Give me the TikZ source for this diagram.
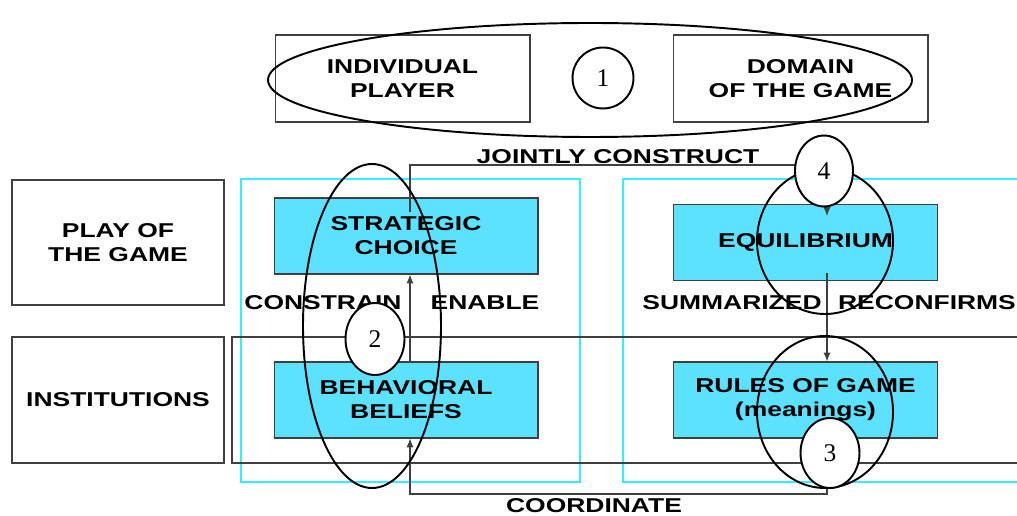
\documentclass[tikz,border=0pt]{standalone}
\usepackage{fontspec}
\newfontfamily\diafont{Liberation Sans}[FakeStretch=1.32]
\newfontfamily\numfont{Liberation Serif}
\usetikzlibrary{shapes.geometric,arrows.meta}
\definecolor{boxblue}{HTML}{5CE1FF}
\definecolor{edgegray}{HTML}{404040}
\definecolor{framecyan}{HTML}{33F0FF}
\tikzset{
	lbl/.style={font=\diafont\bfseries\fontsize{11.4}{13.7}\selectfont, align=center},
	plainbox/.style={draw=edgegray, line width=0.6pt, lbl, inner sep=0pt},
	bluebox/.style={draw=edgegray, line width=0.6pt, fill=boxblue, lbl, minimum width=5.28cm, minimum height=1.52cm, inner sep=0pt},
	numcirc/.style={ellipse, draw, line width=1.1pt, fill=white, inner sep=0pt, font=\numfont\fontsize{14.5}{16}\selectfont},
	link/.style={draw=edgegray, line width=0.6pt},
	tip/.style={link, -{Latex[length=5pt,width=4pt]}},
	ring/.style={line width=1.1pt},
}
\begin{document}
\begin{tikzpicture}[x=0.02cm, y=-0.02cm]
		\useasboundingbox (0,0) rectangle (1017,516);
		% frames
		\draw[framecyan, line width=0.6pt] (241,179) rectangle (580,482);
		\draw[framecyan, line width=0.6pt] (1017,179) -| (623,482) -- (1017,482);
		\draw[edgegray, line width=0.6pt] (1017,337) -| (232,463) -- (1017,463);
		
		\node[plainbox, minimum width=5.1cm, minimum height=1.74cm] (player) at (402.5,78.5) {INDIVIDUAL\\PLAYER};
		\node[plainbox, minimum width=5.1cm, minimum height=1.74cm] (domain) at (800.5,78.5) {DOMAIN\\OF THE GAME};
		\node[plainbox, minimum width=4.24cm, minimum height=2.5cm] (playlbl) at (118,242.5) {PLAY OF\\THE GAME};
		\node[plainbox, minimum width=4.24cm, minimum height=2.52cm] (instlbl) at (118,400) {INSTITUTIONS};
		
		\node[bluebox] (choice) at (406,236) {STRATEGIC\\CHOICE};
		\node[bluebox] (beliefs) at (406,400) {BEHAVIORAL\\BELIEFS};
		\node[bluebox] (equil) at (805.5,242.5) {EQUILIBRIUM};
		\node[bluebox] (rules) at (805.5,400) {RULES OF GAME\\(meanings)};
		
		% connectors
		\coordinate (jcfrom) at (410,212);
		\coordinate (jcturn) at (827,165);
		\coordinate (jcto) at (827,216);
		\coordinate (eqout) at (827,273);
		\coordinate (cdmid) at (600,494);
		\draw[tip] (jcfrom) |- (jcturn) -- (jcto);
		\draw[tip] (beliefs.north -| jcfrom) -- (choice.south -| jcfrom);
		\draw[tip] (eqout) -- (rules.north -| eqout);
		\draw[tip] (rules.south -| eqout) |- (cdmid) -| (beliefs.south -| jcfrom);
		
		\node[lbl] (jointly) at (618,157) {JOINTLY CONSTRUCT};
		\node[lbl] (coord) at (594,506) {COORDINATE};
		\node[lbl] (constrain) at (323,303) {CONSTRAIN};
		\node[lbl] (enable) at (485,303) {ENABLE};
		\node[lbl] (summ) at (732,303) {SUMMARIZED};
		\node[lbl] (reconf) at (927,303) {RECONFIRMS};
		
		% rings
		\draw[ring] (590,80) ellipse [x radius=322, y radius=57];
		\draw[ring] (372,326) ellipse [x radius=69, y radius=162];
		\draw[ring] (825,241) ellipse [x radius=68, y radius=73];
		\draw[ring] (825,412) ellipse [x radius=68, y radius=76];
		
		\node[numcirc, minimum width=1.22cm, minimum height=1.22cm] (one) at (603,78) {1};
		\node[numcirc, minimum width=1.18cm, minimum height=1.44cm] (two) at (375,339) {2};
		\node[numcirc, minimum width=1.18cm, minimum height=1.4cm] (three) at (830,453) {3};
		\node[numcirc, minimum width=1.16cm, minimum height=1.42cm] (four) at (824,171) {4};
		
	\end{tikzpicture}
\end{document}
